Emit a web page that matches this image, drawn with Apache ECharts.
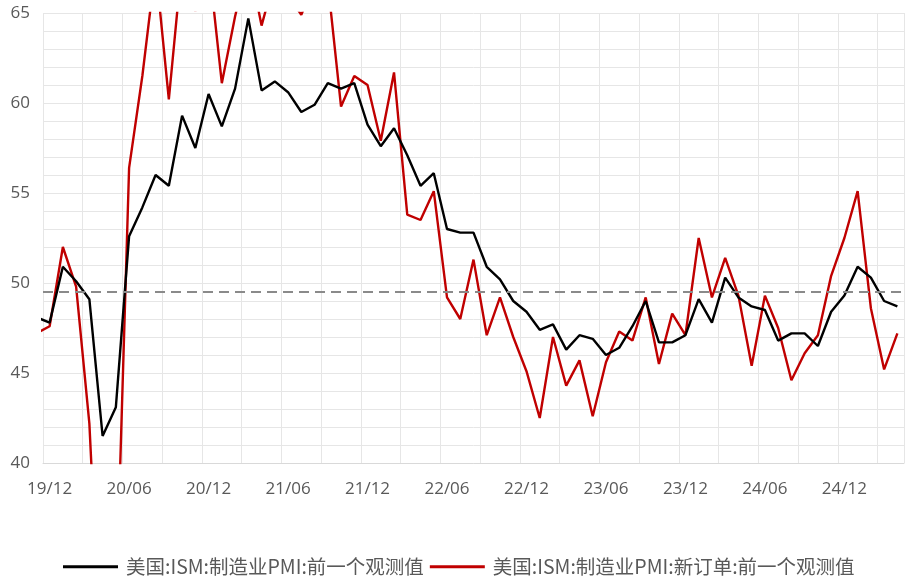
<!DOCTYPE html>
<html>
<head>
<meta charset="utf-8">
<script src="https://cdn.jsdelivr.net/npm/echarts@6/dist/echarts.min.js"></script>
<style>
html,body{margin:0;padding:0;background:#fff;}
#chart{width:906px;height:576px;}
</style>
</head>
<body>
<div id="chart"></div>
<script>
// Months: first entry (19/11) lies just left of the visible axis range
const months = [
  '19/11','19/12',
  '20/01','20/02','20/03','20/04','20/05','20/06','20/07','20/08','20/09','20/10','20/11','20/12',
  '21/01','21/02','21/03','21/04','21/05','21/06','21/07','21/08','21/09','21/10','21/11','21/12',
  '22/01','22/02','22/03','22/04','22/05','22/06','22/07','22/08','22/09','22/10','22/11','22/12',
  '23/01','23/02','23/03','23/04','23/05','23/06','23/07','23/08','23/09','23/10','23/11','23/12',
  '24/01','24/02','24/03','24/04','24/05','24/06','24/07','24/08','24/09','24/10','24/11','24/12',
  '25/01','25/02','25/03','25/04'
];
const pmi = [
  48.1, 47.8,
  50.9, 50.1, 49.1, 41.5, 43.1, 52.6, 54.2, 56.0, 55.4, 59.3, 57.5, 60.5,
  58.7, 60.8, 64.7, 60.7, 61.2, 60.6, 59.5, 59.9, 61.1, 60.8, 61.1, 58.8,
  57.6, 58.6, 57.1, 55.4, 56.1, 53.0, 52.8, 52.8, 50.9, 50.2, 49.0, 48.4,
  47.4, 47.7, 46.3, 47.1, 46.9, 46.0, 46.4, 47.6, 49.0, 46.7, 46.7, 47.1,
  49.1, 47.8, 50.3, 49.2, 48.7, 48.5, 46.8, 47.2, 47.2, 46.5, 48.4, 49.3,
  50.9, 50.3, 49.0, 48.7
];
const newOrders = [
  47.2, 47.6,
  52.0, 49.8, 42.2, 27.1, 31.8, 56.4, 61.5, 67.6, 60.2, 67.9, 65.1, 67.9,
  61.1, 64.8, 68.0, 64.3, 67.0, 66.0, 64.9, 66.7, 66.7, 59.8, 61.5, 61.0,
  57.9, 61.7, 53.8, 53.5, 55.1, 49.2, 48.0, 51.3, 47.1, 49.2, 47.0, 45.1,
  42.5, 47.0, 44.3, 45.7, 42.6, 45.6, 47.3, 46.8, 49.2, 45.5, 48.3, 47.1,
  52.5, 49.2, 51.4, 49.3, 45.4, 49.3, 47.5, 44.6, 46.1, 47.1, 50.4, 52.5,
  55.1, 48.6, 45.2, 47.2
];
const seriesNames = ['美国:ISM:制造业PMI:前一个观测值', '美国:ISM:制造业PMI:新订单:前一个观测值'];
const refLine = 49.5;
const yMin = 40, yMax = 65, yStep = 5;

const axisCats = months.slice(1);
const toXY = arr => arr.map((v, i) => [i - 1, v]);

const chart = echarts.init(document.getElementById('chart'));
chart.setOption({
  animation: false,
  backgroundColor: '#ffffff',
  grid: { left: 43, right: 2, top: 13, bottom: 113, containLabel: false },
  xAxis: [
    {
      type: 'category',
      data: axisCats,
      boundaryGap: true,
      axisLine: { show: true, lineStyle: { color: '#d9d9d9', width: 1 } },
      axisTick: { show: false },
      axisLabel: { interval: 5, color: '#595959', fontSize: 17, fontFamily: 'Open Sans', margin: 18 },
      splitLine: { show: true, interval: 2, lineStyle: { color: '#e6e6e6', width: 1 } }
    },
    {
      type: 'value',
      min: -0.5,
      max: axisCats.length - 0.5,
      show: false,
      position: 'bottom',
      axisLine: { show: false },
      axisTick: { show: false },
      axisLabel: { show: false },
      splitLine: { show: false }
    }
  ],
  yAxis: {
    type: 'value',
    min: yMin, max: yMax, interval: yStep,
    axisLine: { show: false },
    axisTick: { show: false },
    axisLabel: { color: '#595959', fontSize: 17, fontFamily: 'Open Sans', margin: 13 },
    splitLine: { show: true, lineStyle: { color: '#e6e6e6', width: 1 } },
    minorTick: { show: false, splitNumber: 5 },
    minorSplitLine: { show: true, lineStyle: { color: '#e6e6e6', width: 1 } }
  },
  legend: {
    top: 552,
    left: 58,
    icon: 'rect',
    itemWidth: 55,
    itemHeight: 3,
    itemGap: 6,
    textStyle: { color: '#595959', fontSize: 19.5, fontFamily: 'Noto Sans CJK SC', padding: [0, 0, 0, 3] },
    data: seriesNames
  },
  series: [
    {
      name: seriesNames[0],
      type: 'line',
      xAxisIndex: 1,
      data: toXY(pmi),
      symbol: 'none',
      clip: true,
      lineStyle: { color: '#000000', width: 2.4 },
      itemStyle: { color: '#000000' },
      z: 3,
      markLine: {
        silent: true,
        symbol: 'none',
        label: { show: false },
        lineStyle: { color: '#8a8a8a', width: 2.2, type: [10, 6] },
        data: [{ yAxis: refLine }]
      }
    },
    {
      name: seriesNames[1],
      type: 'line',
      xAxisIndex: 1,
      data: toXY(newOrders),
      symbol: 'none',
      clip: true,
      lineStyle: { color: '#c00000', width: 2.4 },
      itemStyle: { color: '#c00000' },
      z: 2
    }
  ]
});
</script>
</body>
</html>
